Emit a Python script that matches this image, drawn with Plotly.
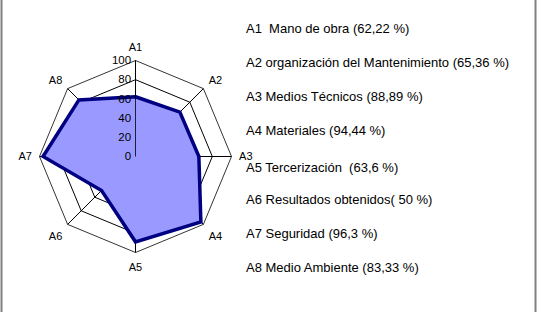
import plotly.graph_objects as go

categories = ["A1", "A2", "A3", "A4", "A5", "A6", "A7", "A8"]
values = [62.22, 65.36, 66, 96.3, 88.89, 50, 96.3, 83.33]
radial_ticks = [0, 20, 40, 60, 80, 100]
legend_lines = [
    "A1\u00a0 Mano de obra (62,22 %)",
    "A2 organización del Mantenimiento (65,36 %)",
    "A3 Medios Técnicos (88,89 %)",
    "A4 Materiales (94,44 %)",
    "A5 Tercerización\u00a0 (63,6 %)",
    "A6 Resultados obtenidos( 50 %)",
    "A7 Seguridad (96,3 %)",
    "A8 Medio Ambiente (83,33 %)",
]

W, H = 537, 312
FONT = "Liberation Sans, Arial, sans-serif"

fig = go.Figure()
fig.add_trace(go.Scatterpolar(
    r=values + values[:1],
    theta=categories + categories[:1],
    mode="lines",
    fill="toself",
    fillcolor="#9999FF",
    line=dict(color="#000080", width=3.5),
    hoverinfo="skip",
))

cx, cy, rad = 135.5, 156.5, 96
fig.update_layout(
    width=W, height=H,
    margin=dict(l=0, r=0, t=0, b=0),
    paper_bgcolor="white",
    showlegend=False,
    font=dict(family=FONT, size=11, color="black"),
    polar=dict(
        domain=dict(x=[(cx - rad) / W, (cx + rad) / W],
                    y=[(H - cy - rad) / H, (H - cy + rad) / H]),
        bgcolor="white",
        gridshape="linear",
        angularaxis=dict(
            categoryorder="array", categoryarray=categories,
            rotation=90, direction="clockwise",
            showgrid=True, gridcolor="black", gridwidth=0.8,
            showline=True, linecolor="black", linewidth=0.8,
            ticks="outside", ticklen=5, tickcolor="rgba(0,0,0,0)",
            tickfont=dict(size=11, family=FONT),
        ),
        radialaxis=dict(
            range=[0, 100], tickvals=radial_ticks,
            angle=90, tickangle=90, side="counterclockwise",
            showgrid=True, gridcolor="black", gridwidth=0.8,
            showline=True, linecolor="black", linewidth=0.8,
            ticks="", tickfont=dict(size=11.5, family=FONT),
        ),
    ),
)

y0, dy = 28, 34.2
for i, txt in enumerate(legend_lines):
    ypix = y0 + i * dy + (3 if i == 4 else 0)
    fig.add_annotation(
        x=244 / W, y=1 - ypix / H, xref="paper", yref="paper",
        text=txt, showarrow=False, xanchor="left", yanchor="middle",
        font=dict(size=13, family=FONT, color="black"),
    )

for xp in (1.5, 535.5):
    fig.add_shape(type="line", xref="paper", yref="paper",
                  x0=xp / W, x1=xp / W, y0=0, y1=1,
                  line=dict(color="#808080", width=2))

fig.write_html("out.html")
